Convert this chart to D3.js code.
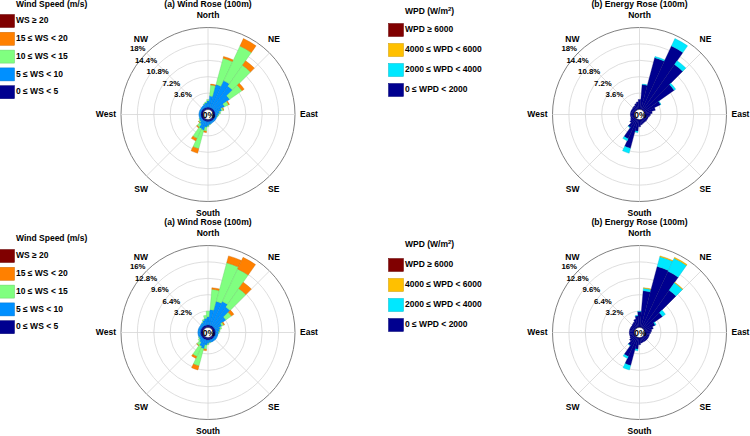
<!DOCTYPE html>
<html>
<head>
<meta charset="utf-8">
<script src="https://cdn.jsdelivr.net/npm/d3@7"></script>
<style>
  body { margin: 0; background: #fff; }
  text { font-family: "Liberation Sans", Arial, sans-serif; }
</style>
</head>
<body>
<svg id="vis" width="750" height="436"></svg>
<script>
// direction bins, 10 deg each, centred on 0, 10, ... 350
var dirs = d3.range(0, 360, 10);

// ring ticks (%)
var ticksTop = [3.6, 7.2, 10.8, 14.4, 18];
var ticksBottom = [3.2, 6.4, 9.6, 12.8, 16];

var compass = ["North", "NE", "East", "SE", "South", "SW", "West", "NW"];

// legend labels / colours
var wsLabels = ["WS \u2265 20", "15 \u2264 WS < 20", "10 \u2264 WS < 15", "5 \u2264 WS < 10", "0 \u2264 WS < 5"];
var wsColors = ["#800000", "#ff8000", "#80ff80", "#0090ff", "#00008f"];
var wpdLabels = ["WPD \u2265 6000", "4000 \u2264 WPD < 6000", "2000 \u2264 WPD < 4000", "0 \u2264 WPD < 2000"];
var wpdColors = ["#800000", "#ffc000", "#00e8ff", "#00008f"];

// ---- top row: wind rose (% per class, per direction) ----
var tlNavy   = [0.5,0.5,0.5,0.5,0.5,0.5,0.5,0.5,0.5,0.5,0.5,0.5,0.5,0.5,0.5,0.5,0.5,0.5,0.5,0.5,0.5,0.5,0.5,0.5,0.5,0.5,0.5,0.5,0.5,0.5,0.5,0.5,0.5,0.5,0.5,0.5];
var tlBlue   = [1.4,2.5,5.2,6.6,6.0,4.2,2.4,1.5,1.0,0.7,0.5,0.4,0.4,0.4,0.4,0.4,0.5,0.6,0.9,1.2,2.0,1.8,1.0,0.6,0.5,0.4,0.4,0.4,0.4,0.4,0.4,0.4,0.5,0.6,0.8,1.0];
var tlGreen  = [0.3,2.4,6.0,8.4,5.6,3.3,1.0,0.4,0.2,0.1,0.1,0,0,0,0,0,0,0.1,0.2,0.9,4.2,2.4,0.8,0.3,0.1,0,0,0,0,0,0,0,0,0,0.1,0.2];
var tlOrange = [0,0.2,0.4,1.8,1.2,0.6,0.2,0.1,0,0,0,0,0,0,0,0,0,0,0,0.3,1.0,0.6,0.2,0.1,0,0,0,0,0,0,0,0,0,0,0,0];
var tlRed    = [0,0,0,0,0,0,0,0,0,0,0,0,0,0,0,0,0,0,0,0,0,0,0,0,0,0,0,0,0,0,0,0,0,0,0,0];

// ---- top row: energy rose ----
var trNavy = [2.2,5.5,11.8,15.5,12.3,8.2,4.0,2.5,1.7,1.3,1.1,0.9,0.9,0.9,0.9,0.9,1.0,1.2,1.6,2.6,6.6,4.8,2.4,1.5,1.1,0.9,0.9,0.9,0.9,0.9,0.9,0.9,1.0,1.1,1.4,1.7];
var trCyan = [0,0.1,0.3,1.8,1.0,0.4,0.1,0,0,0,0,0,0,0,0,0,0,0,0,0.3,1.1,0.5,0.1,0,0,0,0,0,0,0,0,0,0,0,0,0];
var trGold = [0,0,0,0,0,0,0,0,0,0,0,0,0,0,0,0,0,0,0,0,0,0,0,0,0,0,0,0,0,0,0,0,0,0,0,0];
var trRed  = [0,0,0,0,0,0,0,0,0,0,0,0,0,0,0,0,0,0,0,0,0,0,0,0,0,0,0,0,0,0,0,0,0,0,0,0];

// ---- bottom row: wind rose ----
var blNavy   = [0.5,0.5,0.5,0.5,0.5,0.5,0.5,0.5,0.5,0.5,0.5,0.5,0.5,0.5,0.5,0.5,0.5,0.5,0.5,0.5,0.5,0.5,0.5,0.5,0.5,0.5,0.5,0.5,0.5,0.5,0.5,0.5,0.5,0.5,0.5,0.5];
var blBlue   = [1.6,3.0,4.8,5.2,4.6,2.8,1.5,1.0,0.8,0.6,0.5,0.5,0.5,0.5,0.5,0.5,0.5,0.5,0.7,1.0,1.8,1.5,0.9,0.6,0.5,0.5,0.5,0.5,0.5,0.5,0.5,0.5,0.6,0.7,1.0,1.3];
var blGreen  = [1.1,4.0,7.8,7.0,4.4,1.3,0.4,0.3,0.1,0.1,0,0,0,0,0,0,0,0.1,0.2,0.8,3.5,2.2,0.7,0.3,0.1,0,0,0,0,0,0,0,0,0.1,0.2,0.6];
var blOrange = [0,0.3,1.4,2.5,1.5,0.6,0.2,0,0,0,0,0,0,0,0,0,0,0,0,0.3,0.8,0.4,0.1,0,0,0,0,0,0,0,0,0,0,0,0,0];
var blRed    = [0,0,0,0,0,0,0,0,0,0,0,0,0,0,0,0,0,0,0,0,0,0,0,0,0,0,0,0,0,0,0,0,0,0,0,0];

// ---- bottom row: energy rose ----
var brNavy = [3.1,7.2,12.35,12.2,9.1,4.5,2.4,1.8,1.4,1.2,1.0,1.0,1.0,1.0,1.0,1.0,1.0,1.1,1.4,2.3,5.7,4.2,2.1,1.4,1.1,1.0,1.0,1.0,1.0,1.0,1.0,1.0,1.1,1.3,1.7,2.3];
var brCyan = [0.1,0.5,2.0,2.8,1.8,0.7,0.2,0,0,0,0,0,0,0,0,0,0,0,0,0.3,0.9,0.4,0.1,0,0,0,0,0,0,0,0,0,0,0,0,0.1];
var brGold = [0,0.1,0.15,0.2,0.1,0,0,0,0,0,0,0,0,0,0,0,0,0,0,0,0,0,0,0,0,0,0,0,0,0,0,0,0,0,0,0];
var brRed  = [0,0,0,0,0,0,0,0,0,0,0,0,0,0,0,0,0,0,0,0,0,0,0,0,0,0,0,0,0,0,0,0,0,0,0,0];

var svg = d3.select("#vis");
var R = 87, r0 = 5;

function drawRose(cx, cy, ticks, stacks, colors, title) {
    var g = svg.append("g").attr("transform", `translate(${cx}, ${cy})`);
    var r = d3.scaleLinear().domain([0, ticks[ticks.length - 1]]).range([r0, R]);

    // rings
    g.selectAll(".ring")
        .data(ticks)
        .join("circle")
        .attr("r", d => r(d))
        .attr("fill", "none")
        .attr("stroke", (d, i) => i === ticks.length - 1 ? "#808080" : "#d6d6d6")
        .attr("stroke-width", (d, i) => i === ticks.length - 1 ? 1 : 0.8);

    // spokes
    g.selectAll(".spoke")
        .data(d3.range(0, 360, 45))
        .join("line")
        .attr("x1", d => r0 * Math.sin(d * Math.PI / 180))
        .attr("y1", d => -r0 * Math.cos(d * Math.PI / 180))
        .attr("x2", d => R * Math.sin(d * Math.PI / 180))
        .attr("y2", d => -R * Math.cos(d * Math.PI / 180))
        .attr("stroke", "#d6d6d6")
        .attr("stroke-width", 0.8);

    // stacked bars: colours list goes top class -> bottom class, stacks go bottom -> top
    var segs = [];
    dirs.forEach(function (dir, i) {
        var acc = 0;
        stacks.forEach(function (s, k) {
            if (s[i] > 0) segs.push({ dir: dir, y0: acc, y1: acc + s[i], k: k });
            acc += s[i];
        });
    });
    var fill = colors.slice().reverse();
    var arc = d3.arc()
        .innerRadius(d => r(d.y0))
        .outerRadius(d => r(d.y1))
        .startAngle(d => (d.dir - 5) * Math.PI / 180)
        .endAngle(d => (d.dir + 5) * Math.PI / 180);
    g.selectAll(".bar")
        .data(segs)
        .join("path")
        .attr("d", arc)
        .attr("fill", d => fill[d.k])
        .attr("stroke", d => d3.color(fill[d.k]).darker(0.7))
        .attr("stroke-width", 0.35);

    // centre
    g.append("circle").attr("r", r0).attr("fill", "#fff").attr("stroke", "#222").attr("stroke-width", 0.5);
    g.append("text")
        .attr("x", 1).attr("y", 1)
        .attr("text-anchor", "middle")
        .attr("dominant-baseline", "middle")
        .attr("font-size", "8.5px")
        .attr("font-weight", "bold")
        .text("0%");

    // ring labels along NW diagonal
    g.selectAll(".rlab")
        .data(ticks)
        .join("text")
        .attr("x", d => -r(d) * Math.SQRT1_2 - 1)
        .attr("y", d => -r(d) * Math.SQRT1_2 - 4)
        .attr("text-anchor", "end")
        .attr("dominant-baseline", "middle")
        .attr("font-size", "7.8px")
        .attr("font-weight", "bold")
        .text(d => (+d.toFixed(1)) + "%");

    // compass labels
    var pos = [
        [0, -99, "middle"], [60, -75, "start"], [R + 5, 0, "start"], [60, 75, "start"],
        [0, 99, "middle"], [-60, 75, "end"], [-R - 5, 0, "end"], [-60, -75, "end"]
    ];
    g.selectAll(".clab")
        .data(compass)
        .join("text")
        .attr("x", (d, i) => pos[i][0])
        .attr("y", (d, i) => pos[i][1])
        .attr("text-anchor", (d, i) => pos[i][2])
        .attr("dominant-baseline", "middle")
        .attr("font-size", "8.5px")
        .attr("font-weight", "bold")
        .text(d => d);

    g.append("text")
        .attr("x", 0).attr("y", -110)
        .attr("text-anchor", "middle")
        .attr("dominant-baseline", "middle")
        .attr("font-size", "8.6px")
        .attr("font-weight", "bold")
        .text(title);
}

function drawLegend(x, yTitle, yRow0, step, labels, colors, isWpd) {
    var g = svg.append("g");
    var t = g.append("text")
        .attr("x", x + 17).attr("y", yTitle)
        .attr("dominant-baseline", "middle")
        .attr("font-size", "8.5px")
        .attr("font-weight", "bold");
    if (isWpd) {
        t.append("tspan").text("WPD (W/m");
        t.append("tspan").attr("font-size", "6px").attr("dy", -3).text("2");
        t.append("tspan").attr("dy", 3).text(")");
    } else {
        t.text("Wind Speed (m/s)");
    }
    g.selectAll(".sw")
        .data(labels)
        .join("rect")
        .attr("x", x + 0.5)
        .attr("y", (d, i) => yRow0 + i * step - 6.5)
        .attr("width", 15)
        .attr("height", 13)
        .attr("fill", (d, i) => colors[i])
        .attr("stroke", (d, i) => d3.color(colors[i]).darker(0.6))
        .attr("stroke-width", 0.5);
    g.selectAll(".lt")
        .data(labels)
        .join("text")
        .attr("x", x + 17)
        .attr("y", (d, i) => yRow0 + i * step)
        .attr("dominant-baseline", "middle")
        .attr("font-size", "8.5px")
        .attr("font-weight", "bold")
        .text(d => d);
}

drawRose(208, 114.5, ticksTop, [tlNavy, tlBlue, tlGreen, tlOrange, tlRed], wsColors, "(a) Wind Rose (100m)");
drawRose(639.5, 114.5, ticksTop, [trNavy, trCyan, trGold, trRed], wpdColors, "(b) Energy Rose (100m)");
drawRose(208, 332.5, ticksBottom, [blNavy, blBlue, blGreen, blOrange, blRed], wsColors, "(a) Wind Rose (100m)");
drawRose(639.5, 332.5, ticksBottom, [brNavy, brCyan, brGold, brRed], wpdColors, "(b) Energy Rose (100m)");

drawLegend(-1, 5, 21, 17.8, wsLabels, wsColors, false);
drawLegend(388, 12, 30, 20, wpdLabels, wpdColors, true);
drawLegend(-1, 239, 256, 17.8, wsLabels, wsColors, false);
drawLegend(388, 245, 265, 20, wpdLabels, wpdColors, true);
</script>
</body>
</html>
